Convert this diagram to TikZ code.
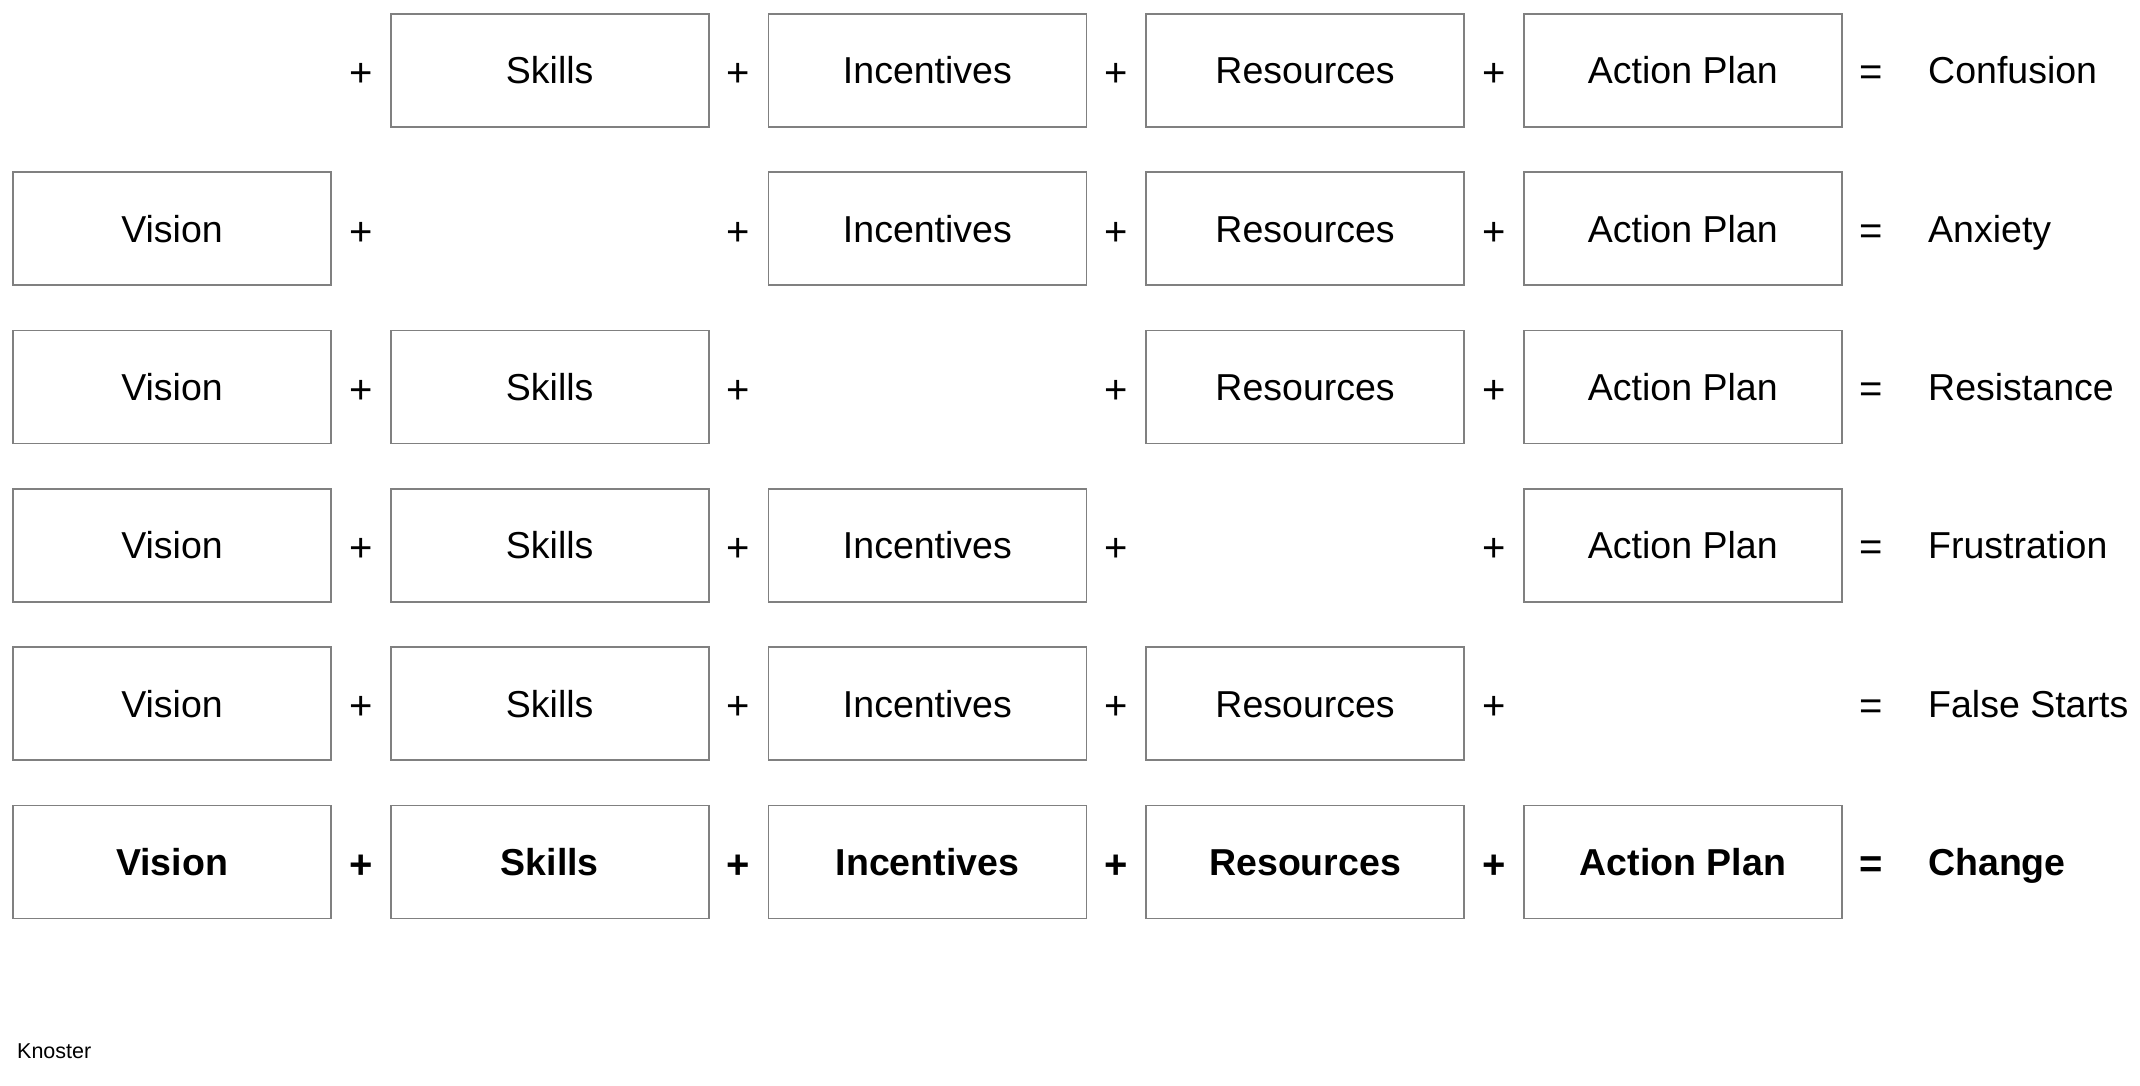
\documentclass[tikz,border=0pt]{standalone}
\usepackage{fontspec}
\setmainfont{Liberation Sans}
\definecolor{boxgray}{RGB}{128,128,128}
\begin{document}
\begin{tikzpicture}[x=1pt,y=-1pt,
  box/.style={draw=boxgray, line width=1.7pt, minimum width=318pt, minimum height=113pt,
    inner sep=0pt, font=\fontsize{37.5}{45}\selectfont, text height=26.9pt, text depth=0pt},
  opsign/.style={inner sep=0pt, anchor=base, font=\fontsize{40}{48}\selectfont},
  result/.style={inner sep=0pt, anchor=west, font=\fontsize{37.5}{45}\selectfont, text height=26.9pt, text depth=0pt},
  note/.style={inner sep=0pt, anchor=base west, font=\fontsize{21.5}{25}\selectfont}]
\useasboundingbox (0,0) rectangle (2140,1086);
\def\colA{172}\def\pitchX{377.7}\def\rowA{70.35}\def\pitchY{158.3}
% boxes
\foreach \r/\res in {1/Confusion,2/Anxiety,3/Resistance,4/Frustration,5/False Starts}{
  \foreach \c/\lab in {1/Vision,2/Skills,3/Incentives,4/Resources,5/Action Plan}{
    \ifnum\c=\r\else
      \node[box] (r\r c\c) at ({\colA+(\c-1)*\pitchX},{\rowA+(\r-1)*\pitchY}) {\lab};
    \fi
  }
  \foreach \c in {1,...,4}{
    \node[opsign] (p\r c\c) at ({\colA+(\c-1)*\pitchX+188.85},{\rowA+(\r-1)*\pitchY+16.4}) {+};
  }
  \node[opsign] (e\r) at (1871,{\rowA+(\r-1)*\pitchY+15.6}) {=};
  \node[result] (res\r) at (1928,{\rowA+(\r-1)*\pitchY}) {\res};
}
% last row (bold)
\foreach \c/\lab in {1/Vision,2/Skills,3/Incentives,4/Resources,5/Action Plan}{
  \node[box, font=\fontsize{37.5}{45}\selectfont\bfseries] (r6c\c) at ({\colA+(\c-1)*\pitchX},{\rowA+5*\pitchY}) {\lab};
}
\foreach \c in {1,...,4}{
  \node[opsign, font=\fontsize{40}{48}\selectfont\bfseries] (p6c\c) at ({\colA+(\c-1)*\pitchX+188.85},{\rowA+5*\pitchY+16.4}) {+};
}
\node[opsign, font=\fontsize{40}{48}\selectfont\bfseries] (e6) at (1871,{\rowA+5*\pitchY+15.6}) {=};
\node[result, font=\fontsize{37.5}{45}\selectfont\bfseries] (res6) at (1928,{\rowA+5*\pitchY}) {Change};
\node[note] (knoster) at (17,1058) {Knoster};
\end{tikzpicture}
\end{document}
